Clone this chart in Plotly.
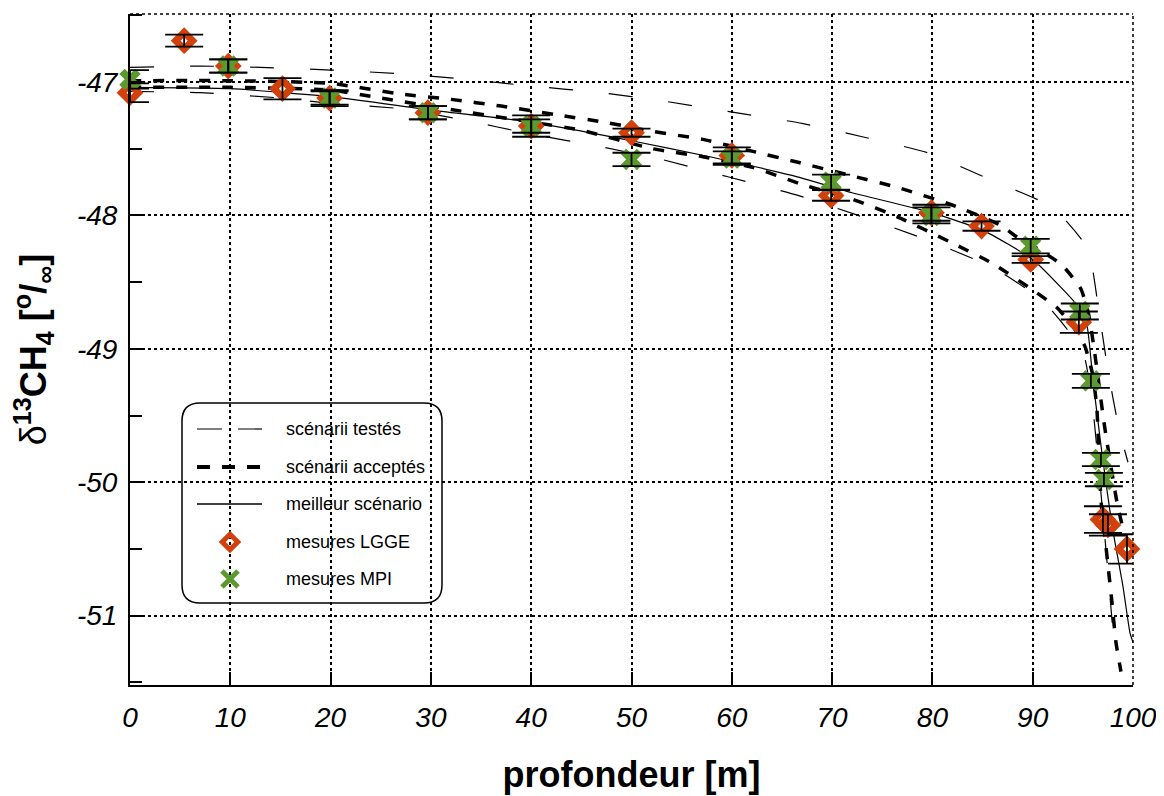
import plotly.graph_objects as go

# ---------------- data ----------------
depth_lgge = [0, 5.4, 9.8, 15.2, 19.9, 29.7, 40.0, 50.0, 60.0, 69.9, 79.9, 84.9, 89.8, 94.6, 97.0, 97.5, 99.4]
d13c_lgge = [-47.08, -46.69, -46.88, -47.05, -47.12, -47.23, -47.33, -47.38, -47.55, -47.85, -47.98,
             -48.08, -48.33, -48.80, -50.28, -50.32, -50.50]
err_lgge = [0.07, 0.045, 0.05, 0.08, 0.06, 0.05, 0.08, 0.03, 0.06, 0.04, 0.06, 0.035, 0.025, 0.08, 0.10, 0.08, 0.11]

depth_mpi = [0, 9.8, 19.9, 29.7, 40.0, 50.0, 60.0, 69.9, 79.9, 89.8, 94.7, 95.8, 96.8, 97.1]
d13c_mpi = [-46.98, -46.88, -47.12, -47.23, -47.33, -47.58, -47.57, -47.75, -48.00, -48.23, -48.72,
            -49.24, -49.83, -49.98]
err_mpi = [0.07, 0.05, 0.05, 0.05, 0.05, 0.05, 0.05, 0.056, 0.06, 0.054, 0.06, 0.052, 0.05, 0.05]

# tested scenarios (thin long dashes)
tested_1_depth = [0, 7, 13, 20, 27.5, 33.5, 40, 47, 53, 59.6, 67, 73, 79.5, 86, 92, 95.5, 96.6, 97.5, 98.6, 99.5]
tested_1_d13c = [-46.89, -46.88, -46.89, -46.91, -46.94, -46.98, -47.03, -47.08, -47.14, -47.22, -47.31,
                 -47.41, -47.53, -47.74, -47.94, -48.25, -48.72, -49.16, -49.60, -49.85]
tested_2_depth = [0, 7, 15, 20, 27, 33, 40, 46.6, 53, 59.6, 66.6, 72.6, 79, 86, 91, 95, 96.0, 97.7, 98.2]
tested_2_d13c = [-47.07, -47.08, -47.12, -47.16, -47.20, -47.28, -47.39, -47.48, -47.58, -47.71, -47.85,
                 -48.00, -48.17, -48.39, -48.64, -49.02, -49.45, -50.85, -51.30]

# accepted scenarios (thick short dashes)
accepted_1_depth = [0, 10, 20, 27, 32, 37, 42.9, 47.2, 52.1, 57.1, 62.1, 66.5, 71.8, 76.5, 81.9, 86.7, 88.4,
                    90.7, 92.9, 94.8, 95.6, 96.2, 96.8, 97.2, 98.4, 99.0]
accepted_1_d13c = [-46.99, -46.99, -47.01, -47.09, -47.13, -47.18, -47.25, -47.30, -47.37, -47.43, -47.52,
                   -47.60, -47.70, -47.79, -47.92, -48.07, -48.16, -48.26, -48.37, -48.55, -48.75, -49.04,
                   -49.38, -49.60, -50.15, -50.35]
accepted_2_depth = [0, 10, 20, 25, 33.2, 40, 44.9, 52.1, 57.1, 62.1, 67.1, 72.1, 76.5, 81.8, 86, 90.4, 92.4,
                    94.0, 95.2, 96.0, 96.4, 96.8, 97.3, 97.9, 98.3, 98.8]
accepted_2_d13c = [-47.04, -47.04, -47.06, -47.12, -47.22, -47.30, -47.36, -47.50, -47.56, -47.64, -47.77,
                   -47.88, -48.01, -48.20, -48.36, -48.58, -48.69, -48.83, -48.98, -49.20, -49.45, -50.13,
                   -50.48, -50.90, -51.20, -51.42]

# best scenario (thin solid)
best_depth = [0, 10, 20, 30, 40, 50, 57.8, 66, 72, 79.5, 85, 90, 92.7, 94.5, 95.4, 96.0, 96.9, 97.9, 99.0, 99.7, 100]
best_d13c = [-47.04, -47.05, -47.11, -47.21, -47.30, -47.44, -47.56, -47.70, -47.83, -47.97, -48.11, -48.33,
             -48.53, -48.68, -48.82, -49.23, -49.78, -50.32, -50.78, -51.13, -51.20]

x_tickvals = [0, 10, 20, 30, 40, 50, 60, 70, 80, 90, 100]
x_ticktext = ["0", "10", "20", "30", "40", "50", "60", "70", "80", "90", "100"]
y_tickvals = [-51, -50, -49, -48, -47]
y_ticktext = ["-51", "-50", "-49", "-48", "-47"]

legend_labels = ["scénarii testés", "scénarii acceptés", "meilleur scénario", "mesures LGGE", "mesures MPI"]

x_title = "profondeur [m]"
y_title = "δ<b><sup>13</sup>CH<sub>4</sub> [<sup>o</sup>/<sub>∞</sub>]</b>"

# ---------------- styles ----------------
RED = "#D2410C"
GREEN = "#5C9A30"
FONT = "Liberation Sans, Arial, sans-serif"
TESTED_LINE = dict(color="black", width=1.2, dash="24px,36px")
ACCEPTED_LINE = dict(color="black", width=3.5, dash="11px,12px")
BEST_LINE = dict(color="black", width=1.2)

# the page body adds an 8px offset; the figure is sized so the plot area lands where the reference has it
OFF = 8
W, H = 1164 - OFF, 796 - OFF
ML, MT = 130 - OFF, 14 - OFF
PW, PH = 1003, 671
MR, MB = W - ML - PW, H - MT - PH


def paper_x(px):
    return (px - OFF - ML) / PW


def paper_y(py):
    return (MT + PH - (py - OFF)) / PH


fig = go.Figure()

for dx, dy in [(tested_1_depth, tested_1_d13c), (tested_2_depth, tested_2_d13c)]:
    fig.add_trace(go.Scatter(x=dx, y=dy, mode="lines", line=dict(TESTED_LINE, shape="spline", smoothing=0.5),
                             showlegend=False, hoverinfo="skip"))
for dx, dy in [(accepted_1_depth, accepted_1_d13c), (accepted_2_depth, accepted_2_d13c)]:
    fig.add_trace(go.Scatter(x=dx, y=dy, mode="lines", line=dict(ACCEPTED_LINE, shape="spline", smoothing=0.5),
                             showlegend=False, hoverinfo="skip"))
fig.add_trace(go.Scatter(x=best_depth, y=best_d13c, mode="lines",
                         line=dict(BEST_LINE, shape="spline", smoothing=0.5), showlegend=False, hoverinfo="skip"))

# measurement markers
fig.add_trace(go.Scatter(x=depth_lgge, y=d13c_lgge, mode="markers", cliponaxis=False, showlegend=False,
                         marker=dict(symbol="diamond-open", size=13, color=RED, line=dict(color=RED, width=7))))
fig.add_trace(go.Scatter(x=depth_mpi, y=d13c_mpi, mode="markers", cliponaxis=False, showlegend=False,
                         marker=dict(symbol="x", size=19, color=GREEN, line=dict(width=0))))
# error bars drawn on top of markers
for dx, dy, de in [(depth_lgge, d13c_lgge, err_lgge), (depth_mpi, d13c_mpi, err_mpi)]:
    fig.add_trace(go.Scatter(x=dx, y=dy, mode="markers", cliponaxis=False, showlegend=False, hoverinfo="skip",
                             marker=dict(size=1, color="rgba(0,0,0,0)"),
                             error_y=dict(type="data", array=de, visible=True, color="black",
                                          thickness=1.8, width=19)))

# ---------------- hand-made legend (rounded box) ----------------
bx0, bx1, by0, by1, rad = 182, 442, 403, 603, 18
x0, x1 = paper_x(bx0), paper_x(bx1)
y0, y1 = paper_y(by1), paper_y(by0)
rx, ry = rad / PW, rad / PH
box_path = (f"M{x0+rx},{y0} L{x1-rx},{y0} Q{x1},{y0} {x1},{y0+ry} L{x1},{y1-ry} Q{x1},{y1} {x1-rx},{y1} "
            f"L{x0+rx},{y1} Q{x0},{y1} {x0},{y1-ry} L{x0},{y0+ry} Q{x0},{y0} {x0+rx},{y0} Z")
shapes = [dict(type="path", path=box_path, xref="paper", yref="paper", fillcolor="white",
               line=dict(color="black", width=1.5), layer="between")]

row_y = [429, 467, 504, 542, 579]
sx0, sx1, sym_x, txt_x = 197, 262, 230, 284
shapes.append(dict(type="line", xref="paper", yref="paper", x0=paper_x(sx0), x1=paper_x(sx1),
                   y0=paper_y(row_y[0]), y1=paper_y(row_y[0]), line=dict(color="black", width=1.2, dash="25px,16px")))
shapes.append(dict(type="line", xref="paper", yref="paper", x0=paper_x(sx0), x1=paper_x(sx1),
                   y0=paper_y(row_y[1]), y1=paper_y(row_y[1]), line=dict(color="black", width=4, dash="13px,12px")))
shapes.append(dict(type="line", xref="paper", yref="paper", x0=paper_x(sx0), x1=paper_x(sx1),
                   y0=paper_y(row_y[2]), y1=paper_y(row_y[2]), line=dict(color="black", width=1.5)))
# dotted top and right frame
shapes.append(dict(type="line", xref="paper", yref="paper", x0=0, x1=1, y0=1, y1=1,
                   line=dict(color="black", width=1.5, dash="3px,3px")))
shapes.append(dict(type="line", xref="paper", yref="paper", x0=1, x1=1, y0=0, y1=1,
                   line=dict(color="black", width=1.5, dash="3px,3px")))

fig.add_trace(go.Scatter(x=[paper_x(sym_x)], y=[paper_y(row_y[3])], xaxis="x2", yaxis="y2", mode="markers",
                         showlegend=False, hoverinfo="skip",
                         marker=dict(symbol="diamond-open", size=12, color=RED, line=dict(color=RED, width=5))))
fig.add_trace(go.Scatter(x=[paper_x(sym_x)], y=[paper_y(row_y[4])], xaxis="x2", yaxis="y2", mode="markers",
                         showlegend=False, hoverinfo="skip",
                         marker=dict(symbol="x-thin-open", size=16, color=GREEN, line=dict(color=GREEN, width=5))))

annotations = []
for lab, ry_ in zip(legend_labels, row_y):
    annotations.append(dict(text=lab, x=paper_x(txt_x), y=paper_y(ry_), xref="paper", yref="paper",
                            xanchor="left", yanchor="middle", showarrow=False,
                            font=dict(family=FONT, size=18, color="black")))

axis_common = dict(showline=True, linecolor="black", linewidth=2, mirror=False, zeroline=False,
                   automargin=False,
                   ticks="inside", tickcolor="black", tickwidth=2, showgrid=True, gridcolor="black",
                   gridwidth=1.5, griddash="3px,3px",
                   tickfont=dict(family=FONT, size=28, color="black", style="italic"))

fig.update_layout(
    width=W, height=H,
    margin=dict(l=ML, r=MR, t=MT, b=MB, autoexpand=False),
    paper_bgcolor="white", plot_bgcolor="white",
    font=dict(family=FONT, color="black"),
    showlegend=False,
    xaxis=dict(axis_common, range=[0, 100], tickvals=x_tickvals, ticktext=x_ticktext, ticklen=13,
               ticklabelstandoff=6,
               title=dict(text=x_title, font=dict(family=FONT, size=36, weight="bold"), standoff=30)),
    yaxis=dict(axis_common, range=[-51.52, -46.49], tickvals=y_tickvals, ticktext=y_ticktext, ticklen=12,
               ticklabelstandoff=5,
               minor=dict(dtick=0.5, tick0=-51, ticks="inside", ticklen=12, tickwidth=2, tickcolor="black",
                          showgrid=False),
               title=dict(text=y_title, font=dict(family=FONT, size=36), standoff=28)),
    xaxis2=dict(overlaying="x", range=[0, 1], visible=False, anchor="y2"),
    yaxis2=dict(overlaying="y", range=[0, 1], visible=False, anchor="x2"),
    shapes=shapes,
    annotations=annotations,
)

fig.write_html("out.html")
